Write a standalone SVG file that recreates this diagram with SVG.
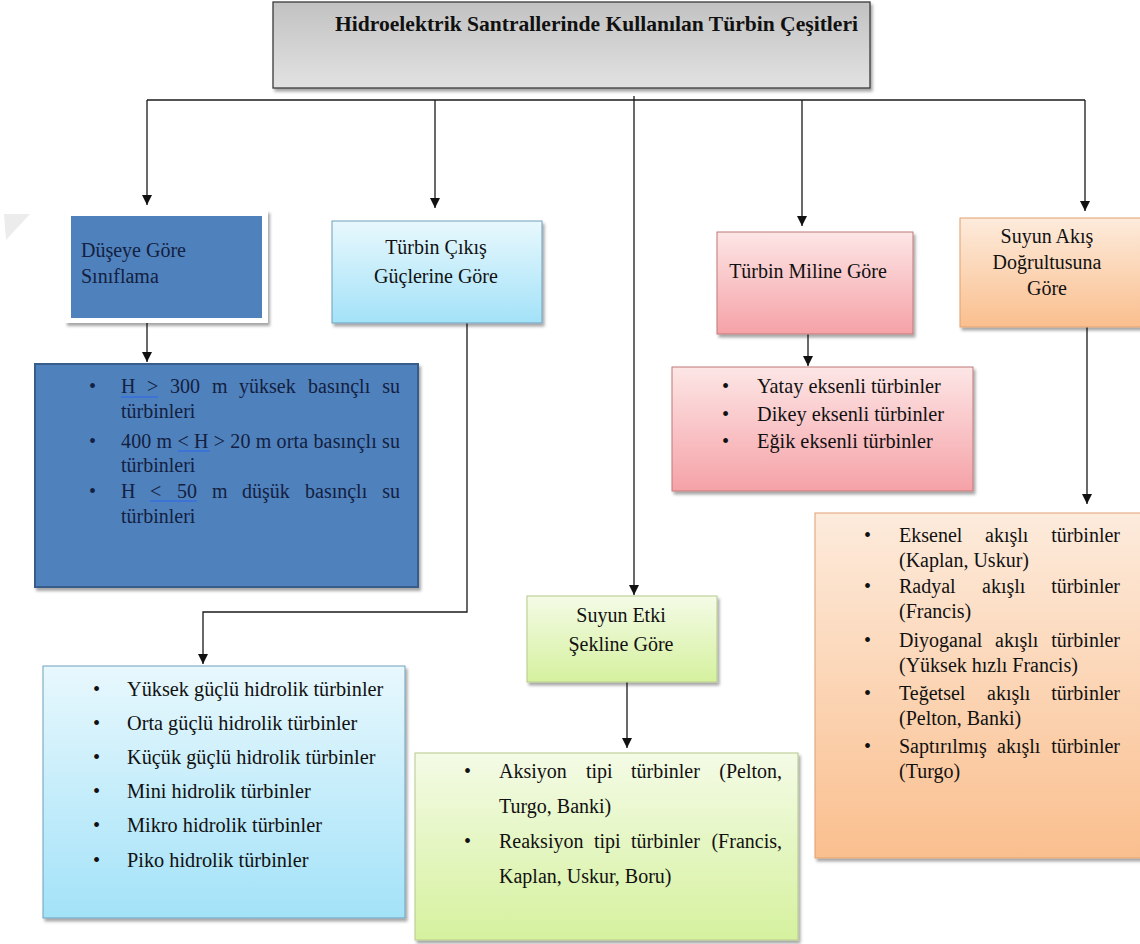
<svg xmlns="http://www.w3.org/2000/svg" width="1140" height="944" viewBox="0 0 1140 944">
<defs>
<marker id="ah" markerUnits="userSpaceOnUse" markerWidth="12" markerHeight="12" refX="10" refY="5" orient="auto">
<path d="M0,0 L10,5 L0,10 z" fill="#111"/>
</marker>
<filter id="sh" x="-5%" y="-5%" width="115%" height="120%">
<feDropShadow dx="2" dy="3" stdDeviation="1.6" flood-color="#000" flood-opacity="0.35"/>
</filter>
<linearGradient id="gGray" x1="0" y1="0" x2="0" y2="1"><stop offset="0" stop-color="#c2c2c2"/><stop offset="1" stop-color="#e2e2e2"/></linearGradient>
<linearGradient id="gBlue" x1="0" y1="0" x2="0" y2="1"><stop offset="0" stop-color="#e8f8fd"/><stop offset="1" stop-color="#a3e2f8"/></linearGradient>
<linearGradient id="gGreen" x1="0" y1="0" x2="0" y2="1"><stop offset="0" stop-color="#f4fbe6"/><stop offset="1" stop-color="#d5f19e"/></linearGradient>
<linearGradient id="gPink" x1="0" y1="0" x2="0" y2="1"><stop offset="0" stop-color="#fde6e6"/><stop offset="1" stop-color="#f5a2a7"/></linearGradient>
<linearGradient id="gOrange" x1="0" y1="0" x2="0" y2="1"><stop offset="0" stop-color="#fdebdc"/><stop offset="1" stop-color="#fabf8e"/></linearGradient>
</defs>
<rect width="1140" height="944" fill="#fff"/>
<polygon points="4,214 30,214 6,240" fill="#ececec"/>

<g id="title">
<rect x="273" y="2" width="597" height="86" fill="url(#gGray)" stroke="#3a3a3a" stroke-width="1.3" filter="url(#sh)"/>
<text font-family="Liberation Serif" font-weight="bold" font-size="21" fill="#111" x="335" y="31" textLength="523" lengthAdjust="spacingAndGlyphs">Hidroelektrik Santrallerinde Kullanılan Türbin Çeşitleri</text>
</g>

<g id="connectors" fill="none" stroke="#1a1a1a" stroke-width="1.3">
<path d="M147,100 L1085,100"/>
<path d="M147,100 L147,205" marker-end="url(#ah)"/>
<path d="M435,100 L435,208" marker-end="url(#ah)"/>
<path d="M634,96 L634,595" marker-end="url(#ah)"/>
<path d="M802,100 L802,226" marker-end="url(#ah)"/>
<path d="M1085,100 L1085,211" marker-end="url(#ah)"/>
<path d="M147,323 L147,362" marker-end="url(#ah)"/>
<path d="M467,323 L467,612 L203,612 L203,664" marker-end="url(#ah)"/>
<path d="M808,334 L808,366" marker-end="url(#ah)"/>
<path d="M627,682 L627,748" marker-end="url(#ah)"/>
<path d="M1087,327 L1087,504" marker-end="url(#ah)"/>
</g>

<g id="dusey" font-family="Liberation Serif" font-size="20" fill="#13203f">
<rect x="65" y="210" width="203" height="113" fill="#fff" filter="url(#sh)"/>
<rect x="71" y="216" width="191" height="102" fill="#4f81bd"/>
<text font-family="Liberation Serif" x="81" y="257">Düşeye Göre</text>
<text font-family="Liberation Serif" x="81" y="283">Sınıflama</text>
</g>

<g id="cikis" font-family="Liberation Serif" font-size="20" fill="#111" text-anchor="middle">
<rect x="332" y="221" width="210" height="102" fill="url(#gBlue)" stroke="#6f9fbd" stroke-width="1" filter="url(#sh)"/>
<text font-family="Liberation Serif" x="436" y="254">Türbin Çıkış</text>
<text font-family="Liberation Serif" x="436" y="283">Güçlerine Göre</text>
</g>

<g id="mil" font-family="Liberation Serif" font-size="20" fill="#111" text-anchor="middle">
<rect x="717" y="232" width="196" height="102" fill="url(#gPink)" stroke="#c07878" stroke-width="1" filter="url(#sh)"/>
<text font-family="Liberation Serif" x="808" y="278">Türbin Miline Göre</text>
</g>

<g id="akis" font-family="Liberation Serif" font-size="20" fill="#111" text-anchor="middle">
<rect x="960" y="218" width="190" height="109" fill="url(#gOrange)" stroke="#e0a070" stroke-width="1" filter="url(#sh)"/>
<text font-family="Liberation Serif" x="1047" y="243">Suyun Akış</text>
<text font-family="Liberation Serif" x="1047" y="269">Doğrultusuna</text>
<text font-family="Liberation Serif" x="1047" y="295">Göre</text>
</g>

<g id="dusey-list" font-family="Liberation Serif" font-size="20" fill="#13203f">
<rect x="35" y="364" width="383" height="223" fill="#4f81bd" stroke="#385d8a" stroke-width="2" filter="url(#sh)"/>
<text font-family="Liberation Serif" x="89" y="393">•</text>
<text font-family="Liberation Serif" x="89" y="448">•</text>
<text font-family="Liberation Serif" x="89" y="498">•</text>
<text font-family="Liberation Serif" y="393"><tspan x="121">H</tspan><tspan x="147">&gt;</tspan><tspan x="170">300</tspan><tspan x="212">m</tspan><tspan x="239">yüksek</tspan><tspan x="308">basınçlı</tspan></text>
<text font-family="Liberation Serif" text-anchor="end" x="400" y="393">su</text>
<text font-family="Liberation Serif" x="121" y="418">türbinleri</text>
<text font-family="Liberation Serif" x="121" y="448" textLength="279" lengthAdjust="spacing">400 m &lt; H &gt; 20 m orta basınçlı su</text>
<text font-family="Liberation Serif" x="121" y="472">türbinleri</text>
<text font-family="Liberation Serif" y="498"><tspan x="121">H</tspan><tspan x="150">&lt;</tspan><tspan x="177">50</tspan><tspan x="212">m</tspan><tspan x="242">düşük</tspan><tspan x="305">basınçlı</tspan></text>
<text font-family="Liberation Serif" text-anchor="end" x="400" y="498">su</text>
<text font-family="Liberation Serif" x="121" y="523">türbinleri</text>
<g stroke="#3d73d6" stroke-width="2">
<line x1="121" y1="397" x2="158" y2="397"/>
<line x1="178" y1="451" x2="210" y2="451"/>
<line x1="150" y1="501" x2="197" y2="501"/>
</g>
</g>

<g id="cikis-list" font-family="Liberation Serif" font-size="20.3" fill="#111">
<rect x="43" y="666" width="362" height="252" fill="url(#gBlue)" stroke="#6f9fbd" stroke-width="1" filter="url(#sh)"/>
<text font-family="Liberation Serif" x="93" y="696">•</text><text font-family="Liberation Serif" x="127" y="696">Yüksek güçlü hidrolik türbinler</text>
<text font-family="Liberation Serif" x="93" y="730">•</text><text font-family="Liberation Serif" x="127" y="730">Orta güçlü hidrolik türbinler</text>
<text font-family="Liberation Serif" x="93" y="764">•</text><text font-family="Liberation Serif" x="127" y="764">Küçük güçlü hidrolik türbinler</text>
<text font-family="Liberation Serif" x="93" y="798">•</text><text font-family="Liberation Serif" x="127" y="798">Mini hidrolik türbinler</text>
<text font-family="Liberation Serif" x="93" y="832">•</text><text font-family="Liberation Serif" x="127" y="832">Mikro hidrolik türbinler</text>
<text font-family="Liberation Serif" x="93" y="867">•</text><text font-family="Liberation Serif" x="127" y="867">Piko hidrolik türbinler</text>
</g>

<g id="etki" font-family="Liberation Serif" font-size="20" fill="#111" text-anchor="middle">
<rect x="527" y="596" width="190" height="86" fill="url(#gGreen)" stroke="#b5c98c" stroke-width="1" filter="url(#sh)"/>
<text font-family="Liberation Serif" x="621" y="622">Suyun Etki</text>
<text font-family="Liberation Serif" x="621" y="651">Şekline Göre</text>
</g>

<g id="etki-list" font-family="Liberation Serif" font-size="20" fill="#111">
<rect x="415" y="753" width="383" height="187" fill="url(#gGreen)" stroke="#b5c98c" stroke-width="1" filter="url(#sh)"/>
<text font-family="Liberation Serif" x="464" y="778">•</text>
<text font-family="Liberation Serif" y="778"><tspan x="499">Aksiyon</tspan><tspan x="586">tipi</tspan><tspan x="631">türbinler</tspan></text>
<text font-family="Liberation Serif" text-anchor="end" x="782" y="778">(Pelton,</text>
<text font-family="Liberation Serif" x="499" y="813">Turgo, Banki)</text>
<text font-family="Liberation Serif" x="464" y="848">•</text>
<text font-family="Liberation Serif" y="848"><tspan x="499">Reaksiyon</tspan><tspan x="594">tipi</tspan><tspan x="631">türbinler</tspan></text>
<text font-family="Liberation Serif" text-anchor="end" x="782" y="848">(Francis,</text>
<text font-family="Liberation Serif" x="499" y="883">Kaplan, Uskur, Boru)</text>
</g>

<g id="mil-list" font-family="Liberation Serif" font-size="20.3" fill="#111">
<rect x="672" y="367" width="301" height="124" fill="url(#gPink)" stroke="#c07878" stroke-width="1" filter="url(#sh)"/>
<text font-family="Liberation Serif" x="722" y="393">•</text><text font-family="Liberation Serif" x="757" y="393">Yatay eksenli türbinler</text>
<text font-family="Liberation Serif" x="722" y="421">•</text><text font-family="Liberation Serif" x="757" y="421">Dikey eksenli türbinler</text>
<text font-family="Liberation Serif" x="722" y="448">•</text><text font-family="Liberation Serif" x="757" y="448">Eğik eksenli türbinler</text>
</g>

<g id="akis-list" font-family="Liberation Serif" font-size="20" fill="#111">
<rect x="815" y="513" width="335" height="345" fill="url(#gOrange)" stroke="#e0a070" stroke-width="1" filter="url(#sh)"/>
<text font-family="Liberation Serif" x="864" y="542">•</text>
<text font-family="Liberation Serif" y="542"><tspan x="899">Eksenel</tspan><tspan x="985">akışlı</tspan></text>
<text font-family="Liberation Serif" text-anchor="end" x="1120" y="542">türbinler</text>
<text font-family="Liberation Serif" x="899" y="567">(Kaplan, Uskur)</text>
<text font-family="Liberation Serif" x="864" y="593">•</text>
<text font-family="Liberation Serif" y="593"><tspan x="899">Radyal</tspan><tspan x="982">akışlı</tspan></text>
<text font-family="Liberation Serif" text-anchor="end" x="1120" y="593">türbinler</text>
<text font-family="Liberation Serif" x="899" y="618">(Francis)</text>
<text font-family="Liberation Serif" x="864" y="647">•</text>
<text font-family="Liberation Serif" y="647"><tspan x="899">Diyoganal</tspan><tspan x="995">akışlı</tspan></text>
<text font-family="Liberation Serif" text-anchor="end" x="1120" y="647">türbinler</text>
<text font-family="Liberation Serif" x="899" y="672">(Yüksek hızlı Francis)</text>
<text font-family="Liberation Serif" x="864" y="700">•</text>
<text font-family="Liberation Serif" y="700"><tspan x="899">Teğetsel</tspan><tspan x="987">akışlı</tspan></text>
<text font-family="Liberation Serif" text-anchor="end" x="1120" y="700">türbinler</text>
<text font-family="Liberation Serif" x="899" y="725">(Pelton, Banki)</text>
<text font-family="Liberation Serif" x="864" y="753">•</text>
<text font-family="Liberation Serif" y="753"><tspan x="899">Saptırılmış</tspan><tspan x="997">akışlı</tspan></text>
<text font-family="Liberation Serif" text-anchor="end" x="1120" y="753">türbinler</text>
<text font-family="Liberation Serif" x="899" y="778">(Turgo)</text>
</g>
</svg>
